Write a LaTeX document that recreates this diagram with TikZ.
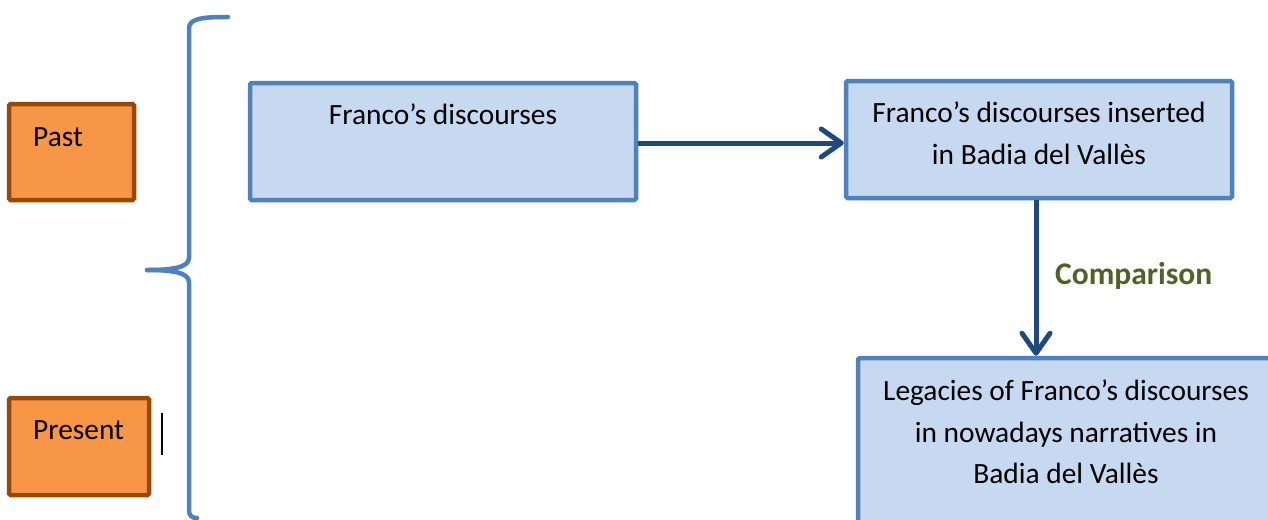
\documentclass[tikz,border=0pt]{standalone}
\usepackage{fontspec}
\setmainfont{Carlito}
\usetikzlibrary{arrows.meta}
\definecolor{boxfill}{HTML}{C6D9F1}
\definecolor{boxline}{HTML}{4F81BD}
\definecolor{tagfill}{HTML}{F79646}
\definecolor{tagline}{HTML}{984807}
\definecolor{arrowcol}{HTML}{1F497D}
\definecolor{labelcol}{HTML}{4F6228}
\tikzset{
  bluebox/.style={draw=boxline, fill=boxfill, line width=4.5pt, rounded corners=1.5pt, inner sep=0pt},
  tagbox/.style={draw=tagline, fill=tagfill, line width=4.5pt, rounded corners=1.5pt, inner sep=0pt},
  txt/.style={inner sep=0pt, align=center, font=\fontsize{29.4}{41.5}\selectfont},
  tagtxt/.style={inner sep=0pt, anchor=base west, font=\fontsize{29.4}{35}\selectfont},
  flow/.style={draw=arrowcol, line width=5pt, -{Straight Barb[length=20pt, width=28pt, line cap=round, line join=round]}},
  brace/.style={draw=boxline, line width=4.5pt, line cap=round, line join=round},
}
\begin{document}
\begin{tikzpicture}[x=1pt, y=-1pt]
\clip (0,0) rectangle (1268,519);
\fill[white] (0,0) rectangle (1268,519);

% period tags
\node[tagbox, minimum width=125pt, minimum height=96pt] (past) at (71.5,152) {};
\node[tagtxt] (pastlbl) at (33,146) {Past};
\node[tagbox, minimum width=140pt, minimum height=97pt] (present) at (79,446.5) {};
\node[tagtxt] (presentlbl) at (33,439) {Present};

% text cursor next to the lower tag
\draw[black, line width=1.6pt] (162,413) -- (162,455);

% curly brace grouping both periods
\draw[brace] (228,17) .. controls (205,17) and (189,18) .. (189,28)
  -- (189,258) .. controls (189,268) and (170,270) .. (147,270);
\draw[brace] (147,270) .. controls (170,270) and (189,272) .. (189,282)
  -- (189,510) .. controls (189,516) and (192,518) .. (197,518);

% discourse boxes
\node[bluebox, minimum width=386pt, minimum height=117pt] (fd) at (443,141.5) {};
\node[txt, anchor=north] (fdlbl) at (443,104) {Franco’s discourses};

\node[bluebox, minimum width=386pt, minimum height=117pt] (fb) at (1039,139.5) {};
\node[txt, anchor=north] (fblbl) at (1039,102) {Franco’s discourses inserted\\in Badia del Vallès};

\node[bluebox, minimum width=430pt, minimum height=200pt] (leg) at (1073,458) {};
\node[txt, anchor=north] (leglbl) at (1066,380) {Legacies of Franco’s discourses\\in nowadays narratives in\\Badia del Vallès};

% connectors
\draw[flow] (fd.east |- 0,143) -- (fb.west |- 0,143);
\coordinate (vtop) at (1036,198);
\coordinate (vbot) at (1036,358);
\draw[flow] (fb.south -| vtop) -- (leg.north -| vbot);
\node[inner sep=0pt, anchor=base west, text=labelcol, font=\fontsize{31.5}{36}\selectfont\bfseries] (cmp) at (1055,284) {Comparison};
\end{tikzpicture}
\end{document}
